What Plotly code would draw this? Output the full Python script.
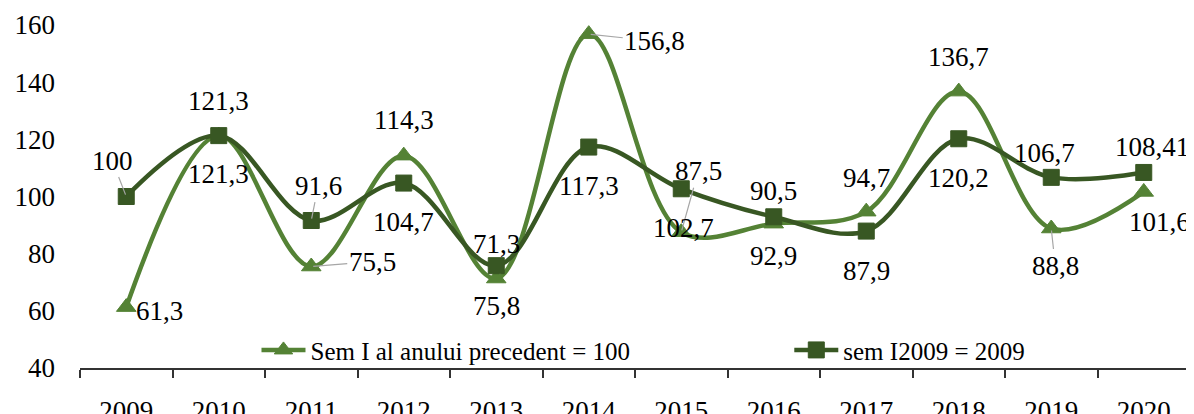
import plotly.graph_objects as go

years = ["2009", "2010", "2011", "2012", "2013", "2014",
         "2015", "2016", "2017", "2018", "2019", "2020"]
sem_prec = [61.3, 121.3, 75.5, 114.3, 71.3, 156.8, 87.5, 90.5, 94.7, 136.7, 88.8, 101.6]
sem_2009 = [100, 121.3, 91.6, 104.7, 75.8, 117.3, 102.7, 92.9, 87.9, 120.2, 106.7, 108.41]

name1 = "Sem I al anului precedent = 100"
name2 = "sem I2009 = 2009"

# label offsets in px (dx, dy downwards, leader line)
off1 = [(33, 4, False), (0, 38, False), (61, -5, True), (0, -36, False),
        (0, -35, False), (66, 7, True), (17, -61, True), (0, -33, False),
        (0, -34, False), (0, -35, False), (4, 37, True), (16, 30, False)]
off2 = [(-14, -36, True), (0, -35, False), (7, -35, True), (0, 39, False),
        (0, 40, False), (0, 39, False), (2, 39, False), (0, 39, False),
        (0, 40, False), (0, 39, False), (-7, -24, False), (8, -25, False)]

light = "rgb(84,130,53)"
dark = "rgb(56,87,35)"
font = "Liberation Serif"

fig = go.Figure()
fig.add_trace(go.Scatter(
    x=years, y=sem_prec, name=name1, mode="lines+markers", legend="legend",
    line=dict(color=light, width=4.5, shape="spline", smoothing=1),
    marker=dict(symbol="triangle-up", size=17, color=light,
                line=dict(color=light, width=1))))
fig.add_trace(go.Scatter(
    x=years, y=sem_2009, name=name2, mode="lines+markers", legend="legend2",
    line=dict(color=dark, width=4.5, shape="spline", smoothing=1),
    marker=dict(symbol="square", size=16, color=dark,
                line=dict(color=dark, width=1))))


def label(v):
    return str(v).replace(".", ",")


annots = []
for vals, offs in [(sem_prec, off1), (sem_2009, off2)]:
    for i, (v, (dx, dy, lead)) in enumerate(zip(vals, offs)):
        # category axis: use the index so "2009" is not read as a position
        if lead:
            annots.append(dict(x=i, y=v, text=label(v), showarrow=True,
                               ax=dx, ay=dy, arrowhead=0, arrowwidth=1.2,
                               arrowcolor="#a6a6a6", standoff=2,
                               font=dict(family=font, size=27, color="#000")))
        else:
            annots.append(dict(x=i, y=v, text=label(v), showarrow=False,
                               xshift=dx, yshift=-dy,
                               font=dict(family=font, size=27, color="#000")))

leg = dict(orientation="h", y=0.052, xanchor="left", yanchor="middle",
           bgcolor="rgba(0,0,0,0)", itemwidth=44,
           font=dict(family=font, size=25, color="#000"))

# page body has an 8px margin, so the figure is a bit smaller than the window
fig.update_layout(
    width=1186, height=406,
    margin=dict(l=72, r=4, t=17, b=46),
    paper_bgcolor="white", plot_bgcolor="white",
    font=dict(family=font, size=27, color="#000"),
    showlegend=True,
    legend=dict(leg, x=0.159),
    legend2=dict(leg, x=0.639),
    annotations=annots,
    xaxis=dict(type="category", range=[-0.5, 11.5], showline=True,
               linecolor="#333", linewidth=1.5, ticks="outside",
               tickson="boundaries", ticklen=8, tickcolor="#333", tickwidth=1.5,
               showgrid=False, zeroline=False, ticklabelstandoff=18,
               automargin=False),
    yaxis=dict(range=[40, 160], dtick=20, showline=False, showgrid=False,
               zeroline=False, ticks="", ticklabelstandoff=24, automargin=False),
)

fig.write_html("out.html")
